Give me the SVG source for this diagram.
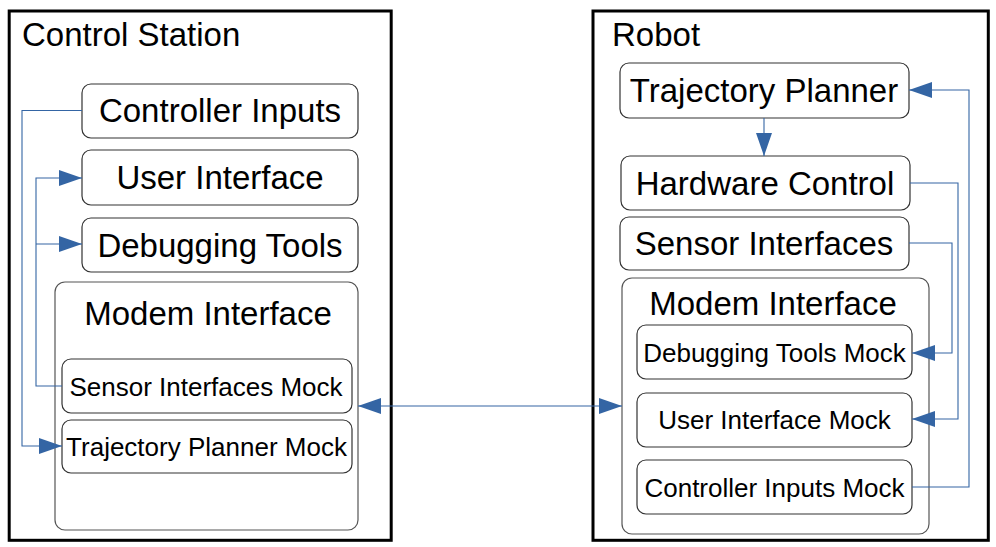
<svg xmlns="http://www.w3.org/2000/svg" width="996" height="547" viewBox="0 0 996 547">
<style>
.bg{fill:#fff}
.cont{fill:#fff;stroke:#000;stroke-width:3}
.node{fill:#fff;stroke:#333;stroke-width:1.2}
.outer{fill:#fff;stroke:#555;stroke-width:1.2}
.big{font-family:"Liberation Sans",Arial,sans-serif;font-size:33px;fill:#000}
.small{font-family:"Liberation Sans",Arial,sans-serif;font-size:26px;fill:#000}
.mid{text-anchor:middle}
.conn{fill:none;stroke:#3465a4;stroke-width:1.1}
</style>
<defs>
<marker id="arr" viewBox="0 0 23 16" refX="23" refY="8" markerWidth="23" markerHeight="16" markerUnits="userSpaceOnUse" orient="auto-start-reverse">
<path d="M0,0 L23,8 L0,16 Z" fill="#3465a4"/>
</marker>
</defs>
<rect class="bg" x="0" y="0" width="996" height="547"/>
<g id="control-station">
<rect class="cont" x="9.2" y="11" width="382" height="529.3"/>
<text class="big" x="22" y="46">Control Station</text>
</g>
<g id="robot">
<rect class="cont" x="593" y="11" width="395.3" height="529.3"/>
<text class="big" x="612" y="46">Robot</text>
</g>
<g id="cs-controller-inputs">
<rect class="node" x="82" y="84" width="276" height="54" rx="9"/>
<text class="big mid" x="220" y="122">Controller Inputs</text>
</g>
<g id="cs-user-interface">
<rect class="node" x="82" y="150" width="276" height="55" rx="9"/>
<text class="big mid" x="220" y="189">User Interface</text>
</g>
<g id="cs-debugging-tools">
<rect class="node" x="82" y="218" width="276" height="54" rx="9"/>
<text class="big mid" x="220" y="256.5">Debugging Tools</text>
</g>
<g id="cs-modem-interface">
<rect class="outer" x="55" y="282" width="303" height="248" rx="10"/>
<text class="big mid" x="208" y="325">Modem Interface</text>
</g>
<g id="cs-sensor-interfaces-mock">
<rect class="node" x="62" y="359" width="290" height="54" rx="9"/>
<text class="small mid" x="206" y="395.5">Sensor Interfaces Mock</text>
</g>
<g id="cs-trajectory-planner-mock">
<rect class="node" x="62" y="420" width="290" height="53" rx="9"/>
<text class="small mid" x="206.5" y="455.5">Trajectory Planner Mock</text>
</g>
<g id="r-trajectory-planner">
<rect class="node" x="620" y="63" width="289" height="55" rx="9"/>
<text class="big mid" x="764" y="102">Trajectory Planner</text>
</g>
<g id="r-hardware-control">
<rect class="node" x="621" y="156" width="289" height="54" rx="9"/>
<text class="big mid" x="765" y="195">Hardware Control</text>
</g>
<g id="r-sensor-interfaces">
<rect class="node" x="620" y="217" width="289" height="53" rx="9"/>
<text class="big mid" x="764" y="255">Sensor Interfaces</text>
</g>
<g id="r-modem-interface">
<rect class="outer" x="622" y="278" width="307" height="256" rx="10"/>
<text class="big mid" x="773" y="315">Modem Interface</text>
</g>
<g id="r-debugging-tools-mock">
<rect class="node" x="637" y="325" width="275" height="54" rx="9"/>
<text class="small mid" x="774.5" y="361.5">Debugging Tools Mock</text>
</g>
<g id="r-user-interface-mock">
<rect class="node" x="637" y="393" width="275" height="54" rx="9"/>
<text class="small mid" x="774.5" y="429">User Interface Mock</text>
</g>
<g id="r-controller-inputs-mock">
<rect class="node" x="637" y="460" width="275" height="54" rx="9"/>
<text class="small mid" x="774.5" y="496.5">Controller Inputs Mock</text>
</g>
<g id="connectors">
<path class="conn" d="M82,110.5 H22 V446 H62" marker-end="url(#arr)"/>
<path class="conn" d="M62,386 H36 V178 H82" marker-end="url(#arr)"/>
<path class="conn" d="M36,244 H82" marker-end="url(#arr)"/>
<path class="conn" d="M764,118 V156" marker-end="url(#arr)"/>
<path class="conn" d="M910,183 H958 V419 H912" marker-end="url(#arr)"/>
<path class="conn" d="M909,243 H952 V353 H912" marker-end="url(#arr)"/>
<path class="conn" d="M912,487 H969 V90 H909" marker-end="url(#arr)"/>
<path class="conn" d="M358,406 H622" marker-start="url(#arr)" marker-end="url(#arr)"/>
</g>
</svg>
